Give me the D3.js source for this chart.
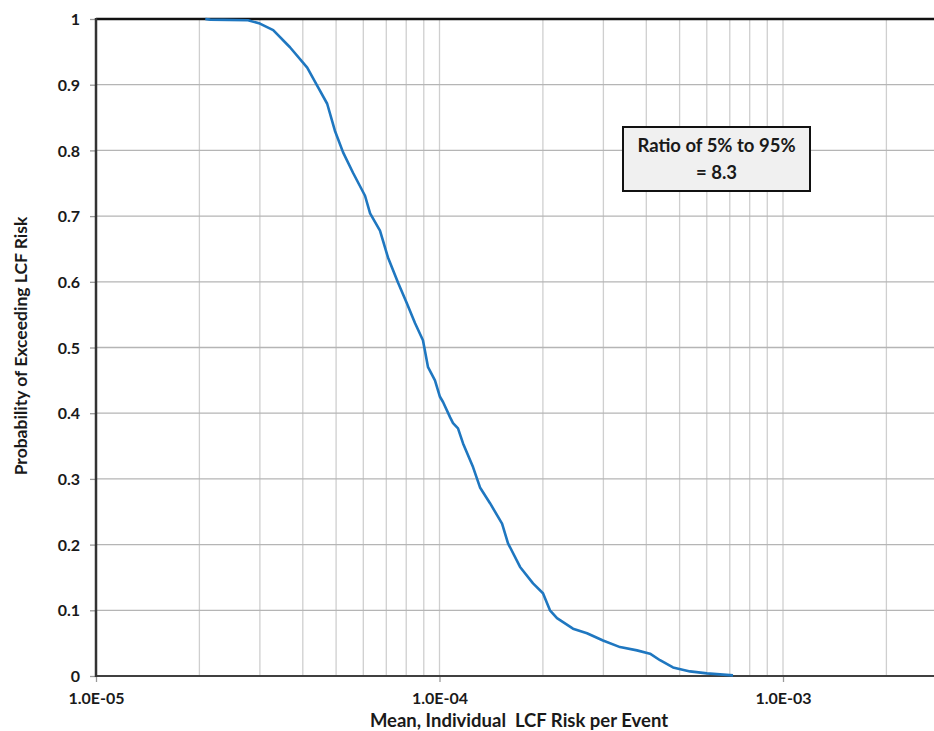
<!DOCTYPE html>
<html><head><meta charset="utf-8">
<script src="https://cdn.jsdelivr.net/npm/d3@7"></script>
<style>body{margin:0;background:#fff}svg{display:block}text{font-family:Lato,"Open Sans",sans-serif;font-weight:bold;fill:#1a1a1a}</style>
</head><body>
<script>
// Data (risk per event, probability of exceedance)
const riskValues = [2.08e-5,2.15e-5,2.77e-5,3.00e-5,3.28e-5,3.67e-5,4.12e-5,4.40e-5,4.71e-5,4.96e-5,5.24e-5,5.60e-5,6.07e-5,6.28e-5,6.71e-5,7.08e-5,7.57e-5,8.04e-5,8.49e-5,8.95e-5,9.26e-5,9.70e-5,1.003e-4,1.024e-4,1.073e-4,1.095e-4,1.132e-4,1.171e-4,1.252e-4,1.312e-4,1.403e-4,1.521e-4,1.583e-4,1.716e-4,1.872e-4,2.001e-4,2.097e-4,2.198e-4,2.447e-4,2.688e-4,2.992e-4,3.354e-4,3.758e-4,4.101e-4,4.385e-4,4.784e-4,5.362e-4,6.007e-4,7.152e-4];
const exceedProb = [1.0,0.999,0.998,0.993,0.983,0.957,0.926,0.899,0.871,0.830,0.797,0.766,0.731,0.704,0.678,0.637,0.599,0.567,0.537,0.511,0.470,0.450,0.425,0.417,0.394,0.385,0.377,0.354,0.318,0.287,0.263,0.232,0.202,0.166,0.141,0.126,0.100,0.088,0.072,0.065,0.054,0.044,0.039,0.034,0.024,0.013,0.007,0.004,0.001];
const xTickValues = [1e-5,1e-4,1e-3];
const xTickLabels = ["1.0E-05","1.0E-04","1.0E-03"];
const yTickValues = [0,0.1,0.2,0.3,0.4,0.5,0.6,0.7,0.8,0.9,1];
const yTickLabels = ["0","0.1","0.2","0.3","0.4","0.5","0.6","0.7","0.8","0.9","1"];
const annotationLines = ["Ratio of 5% to 95%","= 8.3"];
const xTitle = "Mean, Individual  LCF Risk per Event";
const yTitle = "Probability of Exceeding LCF Risk";

const W = 934, H = 731;
const L = 96, T = 19, B = 676, decade = 343.5, R = 934;
const xMax = Math.pow(10, -5 + (R - L) / decade);

const svg = d3.select("body").append("svg").attr("width", W).attr("height", H);
const x = d3.scaleLog().domain([1e-5, xMax]).range([L, R]);
const y = d3.scaleLinear().domain([0, 1]).range([B, T]);

// vertical grid (minor + major)
const gridX = [];
for (let e = -5; e <= -3; e++) for (let m = 1; m <= 9; m++) { const v = m * Math.pow(10, e); if (v > 1e-5 && v <= xMax) gridX.push(v); }
svg.append("g").selectAll("line").data(gridX).join("line")
  .attr("x1", d => x(d)).attr("x2", d => x(d)).attr("y1", T).attr("y2", B)
  .attr("stroke", "#cfcfcf").attr("stroke-width", 1.3);
// horizontal grid
svg.append("g").selectAll("line").data(yTickValues.filter(v => v > 0 && v < 1)).join("line")
  .attr("x1", L).attr("x2", R).attr("y1", d => y(d)).attr("y2", d => y(d))
  .attr("stroke", "#b5b5b5").attr("stroke-width", 1.3);

// y axis
const yAxis = d3.axisLeft(y).tickValues(yTickValues).tickFormat((d, i) => yTickLabels[i]).tickSize(6).tickPadding(10);
const gy = svg.append("g").attr("transform", `translate(${L},0)`).call(yAxis);
gy.select(".domain").remove();
gy.selectAll(".tick line").attr("stroke", "#9a9a9a").attr("stroke-width", 1.3);
gy.selectAll(".tick text").attr("font-size", 16).attr("font-family", "Lato").attr("font-weight", "bold").attr("fill", "#1a1a1a").attr("dy", "0.35em");

// x axis
const xAxis = d3.axisBottom(x).tickValues(xTickValues).tickFormat((d, i) => xTickLabels[i]).tickSize(6).tickPadding(8.4);
const gx = svg.append("g").attr("transform", `translate(0,${B})`).call(xAxis);
gx.select(".domain").remove();
gx.selectAll(".tick line").attr("stroke", "#9a9a9a").attr("stroke-width", 1.3);
gx.selectAll(".tick text").attr("font-size", 16).attr("font-family", "Lato").attr("font-weight", "bold").attr("fill", "#1a1a1a").attr("dy", "0.85em");

// frame lines
svg.append("line").attr("x1", L).attr("x2", R).attr("y1", T).attr("y2", T).attr("stroke", "#111").attr("stroke-width", 2.5);
svg.append("line").attr("x1", L).attr("x2", R).attr("y1", B).attr("y2", B).attr("stroke", "#404040").attr("stroke-width", 2.2);
svg.append("line").attr("x1", L).attr("x2", L).attr("y1", T - 1).attr("y2", B + 1).attr("stroke", "#333").attr("stroke-width", 2.5);

// curve
const pts = riskValues.map((v, i) => [v, exceedProb[i]]);
svg.append("path").datum(pts)
  .attr("d", d3.line().x(d => x(d[0])).y(d => y(d[1])))
  .attr("fill", "none").attr("stroke", "#1f77c0").attr("stroke-width", 2.6).attr("stroke-linejoin", "round");

// annotation
const bx = 623, by = 127, bw = 187, bh = 64;
svg.append("rect").attr("x", bx).attr("y", by).attr("width", bw).attr("height", bh)
  .attr("fill", "#f0f0f0").attr("stroke", "#111").attr("stroke-width", 2);
svg.append("g").selectAll("text").data(annotationLines).join("text")
  .attr("x", bx + bw / 2).attr("y", (d, i) => by + 25 + i * 27)
  .attr("text-anchor", "middle").attr("font-size", 18.5).text(d => d);

// titles
svg.append("text").attr("x", 519).attr("y", 727).attr("text-anchor", "middle").attr("font-size", 18.5)
  .style("white-space", "pre").text(xTitle);
svg.append("text").attr("transform", "translate(27,346) rotate(-90)").attr("text-anchor", "middle").attr("font-size", 17.5).text(yTitle);
</script>
</body></html>
